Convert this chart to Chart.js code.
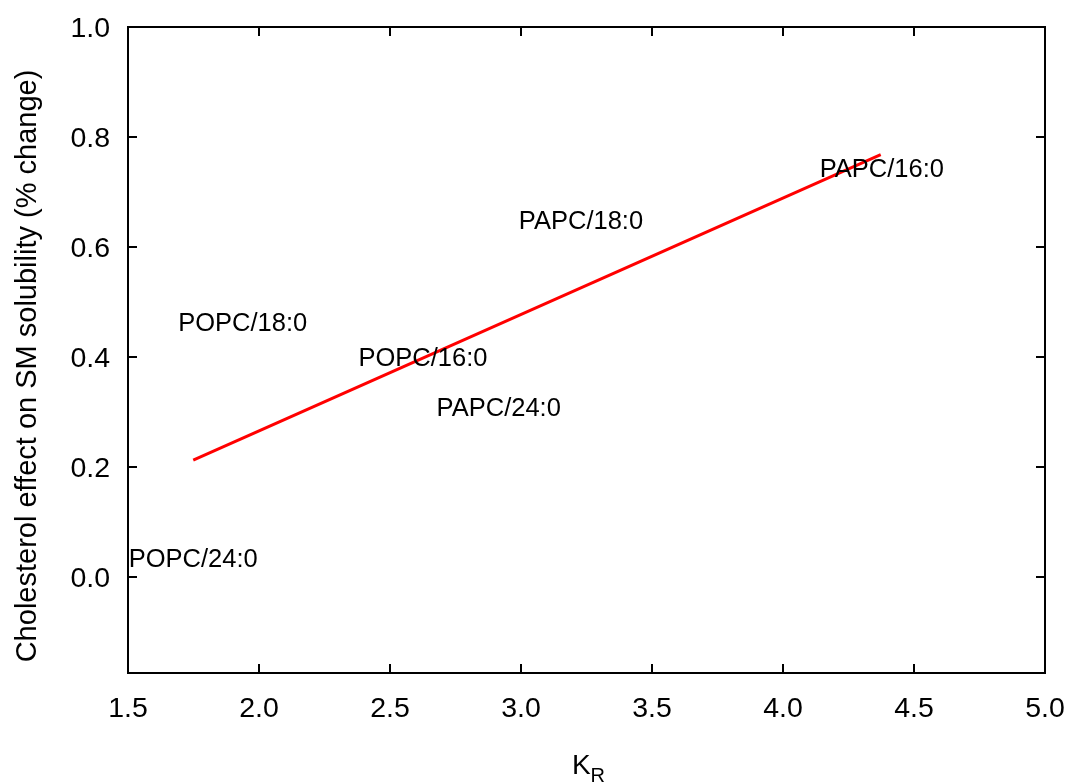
<!DOCTYPE html>
<html>
<head>
<meta charset="utf-8">
<script src="https://cdn.jsdelivr.net/npm/chart.js@4.4.1/dist/chart.umd.min.js"></script>
<style>
html,body{margin:0;padding:0;background:#fff;}
#wrap{width:1070px;height:783px;position:relative;}
</style>
</head>
<body>
<div id="wrap"><canvas id="c" width="1070" height="783"></canvas></div>
<script>
// Data
const labelNames = ["POPC/24:0","POPC/18:0","POPC/16:0","PAPC/24:0","PAPC/18:0","PAPC/16:0"];
const labelKR    = [1.749, 1.938, 2.626, 2.915, 3.229, 4.377];
const labelEffect= [0.034, 0.464, 0.400, 0.309, 0.649, 0.743];
const fitKR      = [1.749, 4.373];
const fitEffect  = [0.212, 0.768];
const xTicks = [1.5, 2.0, 2.5, 3.0, 3.5, 4.0, 4.5, 5.0];
const yTicks = [0.0, 0.2, 0.4, 0.6, 0.8, 1.0];
const xTitle = "K";
const xTitleSub = "R";
const yTitle = "Cholesterol effect on SM solubility (% change)";

const FONT = "'Liberation Sans', Arial, Helvetica, sans-serif";

const drawPlugin = {
  id: 'customDraw',
  afterDatasetsDraw(chart) {
    const ctx = chart.ctx;
    const xs = chart.scales.x, ys = chart.scales.y;
    const a = chart.chartArea;
    ctx.save();
    // frame
    ctx.strokeStyle = '#000';
    ctx.lineWidth = 2;
    ctx.strokeRect(a.left, a.top, a.right - a.left, a.bottom - a.top);
    // inward ticks
    const tl = 9;
    ctx.lineWidth = 2;
    ctx.beginPath();
    xTicks.forEach(v => {
      const px = Math.round(xs.getPixelForValue(v));
      ctx.moveTo(px, a.bottom); ctx.lineTo(px, a.bottom - tl);
      ctx.moveTo(px, a.top); ctx.lineTo(px, a.top + tl);
    });
    yTicks.forEach(v => {
      const py = Math.round(ys.getPixelForValue(v));
      ctx.moveTo(a.left, py); ctx.lineTo(a.left + tl, py);
      ctx.moveTo(a.right, py); ctx.lineTo(a.right - tl, py);
    });
    ctx.stroke();
    // tick labels
    ctx.fillStyle = '#000';
    ctx.font = '28.5px ' + FONT;
    ctx.textBaseline = 'alphabetic';
    ctx.textAlign = 'center';
    xTicks.forEach(v => {
      ctx.fillText(v.toFixed(1), xs.getPixelForValue(v), a.bottom + 44);
    });
    ctx.textAlign = 'right';
    yTicks.forEach(v => {
      ctx.fillText(v.toFixed(1), a.left - 18, ys.getPixelForValue(v) + 10);
    });
    // point labels
    ctx.font = '25.5px ' + FONT;
    ctx.textAlign = 'center';
    labelNames.forEach((n, i) => {
      ctx.fillText(n, xs.getPixelForValue(labelKR[i]), ys.getPixelForValue(labelEffect[i]) + 9);
    });
    // x title with subscript
    ctx.font = '28px ' + FONT;
    const kw = ctx.measureText(xTitle).width;
    ctx.font = '20px ' + FONT;
    const rw = ctx.measureText(xTitleSub).width;
    const cx = (a.left + a.right) / 2 + 2;
    const startX = cx - (kw + rw) / 2;
    ctx.textAlign = 'left';
    ctx.font = '28px ' + FONT;
    ctx.fillText(xTitle, startX, 774);
    ctx.font = '20px ' + FONT;
    ctx.fillText(xTitleSub, startX + kw, 782);
    // y title
    ctx.translate(36, 366);
    ctx.rotate(-Math.PI / 2);
    ctx.textAlign = 'center';
    ctx.font = '29px ' + FONT;
    ctx.fillText(yTitle, 0, 0);
    ctx.restore();
  }
};

new Chart(document.getElementById('c'), {
  type: 'scatter',
  data: {
    datasets: [
      {
        label: 'fit',
        data: fitKR.map((x, i) => ({x: x, y: fitEffect[i]})),
        showLine: true,
        borderColor: '#ff0000',
        borderWidth: 3,
        pointRadius: 0,
        fill: false
      },
      {
        label: 'labels',
        data: labelKR.map((x, i) => ({x: x, y: labelEffect[i]})),
        pointRadius: 0,
        showLine: false
      }
    ]
  },
  options: {
    responsive: false,
    animation: false,
    events: [],
    layout: { padding: { top: 27, right: 25, left: 0, bottom: 0 } },
    plugins: { legend: { display: false }, tooltip: { enabled: false } },
    scales: {
      x: {
        type: 'linear', min: 1.5, max: 5.0,
        grid: { display: false },
        border: { display: false },
        ticks: { display: false },
        afterBuildTicks: s => { s.ticks = xTicks.map(v => ({value: v})); },
        afterFit: s => { s.height = 110; }
      },
      y: {
        type: 'linear', min: -0.175, max: 1.0,
        grid: { display: false },
        border: { display: false },
        ticks: { display: false },
        afterBuildTicks: s => { s.ticks = yTicks.map(v => ({value: v})); },
        afterFit: s => { s.width = 128; }
      }
    }
  },
  plugins: [drawPlugin]
});
</script>
</body>
</html>
